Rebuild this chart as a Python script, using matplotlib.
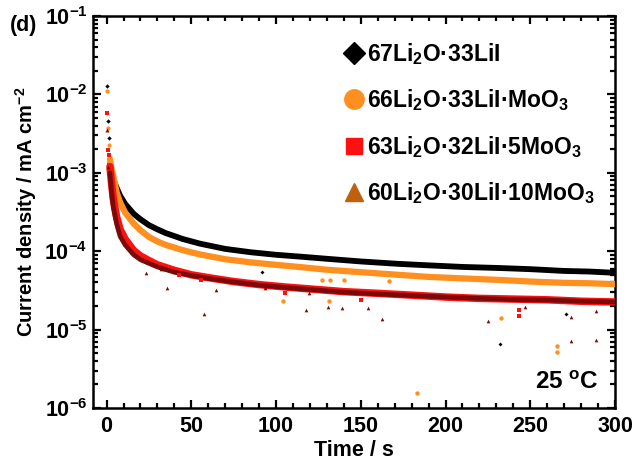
import matplotlib
matplotlib.use("Agg")
import matplotlib.pyplot as plt
from matplotlib.lines import Line2D
from matplotlib.ticker import MultipleLocator, LogLocator, FixedLocator, FixedFormatter, NullFormatter

plt.rcParams['font.family'] = ['Liberation Sans', 'DejaVu Sans']
plt.rcParams['font.weight'] = 'bold'
plt.rcParams['mathtext.fontset'] = 'custom'
plt.rcParams['mathtext.rm'] = 'Liberation Sans:bold'
plt.rcParams['mathtext.it'] = 'Liberation Sans:bold'
plt.rcParams['mathtext.bf'] = 'Liberation Sans:bold'

# ---------------- data ----------------
labels = ["67Li$_2$O·33LiI", "66Li$_2$O·33LiI·MoO$_3$",
          "63Li$_2$O·32LiI·5MoO$_3$", "60Li$_2$O·30LiI·10MoO$_3$"]

# first isolated points near t = 0
black_head_t = [0.5, 1.0, 1.5]
black_head_j = [1.29e-2, 4.6e-3, 2.75e-3]
orange_head_t = [0.5, 1.0, 1.5]
orange_head_j = [1.12e-2, 3.7e-3, 2.27e-3]
red_head_t = [0.5, 1.0, 1.5]
red_head_j = [5.75e-3, 1.96e-3, 1.7e-3]
dred_head_t = [0.5, 1.0]
dred_head_j = [3.5e-3, 1.2e-3]

# main decays
black_t = [2, 3, 4, 6, 8, 11, 16, 20, 25, 30, 35, 45, 55, 70, 85, 100, 115,
           130, 150, 172, 190, 210, 232, 250, 270, 285, 300]
black_j = [1.3e-3, 1.0e-3, 8.2e-4, 6.4e-4, 5.1e-4, 4.0e-4, 3.0e-4, 2.55e-4,
           2.15e-4, 1.9e-4, 1.7e-4, 1.43e-4, 1.25e-4, 1.07e-4, 9.7e-5,
           9.0e-5, 8.5e-5, 8.0e-5, 7.4e-5, 6.9e-5, 6.6e-5, 6.3e-5, 6.1e-5,
           5.9e-5, 5.6e-5, 5.5e-5, 5.3e-5]

orange_t = [2, 3, 4, 6, 8, 11, 16, 20, 25, 30, 35, 45, 55, 70, 85, 100, 115,
            130, 150, 172, 190, 210, 232, 250, 270, 285, 300]
orange_j = [1.5e-3, 1.1e-3, 9.0e-4, 5.6e-4, 4.2e-4, 3.1e-4, 2.25e-4, 1.85e-4,
            1.52e-4, 1.33e-4, 1.2e-4, 1.03e-4, 9.1e-5, 7.9e-5, 7.2e-5, 6.7e-5,
            6.25e-5, 5.8e-5, 5.4e-5, 5.0e-5, 4.7e-5, 4.5e-5, 4.3e-5, 4.1e-5,
            3.95e-5, 3.9e-5, 3.8e-5]

red_t = [2, 3, 4, 6, 8, 11, 16, 20, 25, 30, 40, 50, 60, 75, 90, 105, 120,
         140, 160, 180, 200, 220, 240, 260, 280, 300]
red_j = [1.2e-3, 7.2e-4, 4.6e-4, 2.7e-4, 1.9e-4, 1.42e-4, 1.02e-4, 8.7e-5,
         7.6e-5, 6.7e-5, 5.7e-5, 5.0e-5, 4.6e-5, 4.1e-5, 3.75e-5, 3.5e-5,
         3.3e-5, 3.05e-5, 2.9e-5, 2.75e-5, 2.6e-5, 2.5e-5, 2.45e-5, 2.4e-5,
         2.3e-5, 2.25e-5]

dred_t = [2, 3, 4, 6, 8, 11, 16, 20, 25, 30, 40, 50, 60, 75, 90, 105, 120,
          140, 160, 180, 200, 220, 240, 260, 280, 300]
dred_j = [1.0e-3, 5.5e-4, 3.6e-4, 2.2e-4, 1.55e-4, 1.2e-4, 9.0e-5, 7.8e-5,
          7.0e-5, 6.3e-5, 5.4e-5, 4.9e-5, 4.5e-5, 4.05e-5, 3.7e-5, 3.45e-5,
          3.25e-5, 3.0e-5, 2.85e-5, 2.72e-5, 2.6e-5, 2.5e-5, 2.42e-5, 2.38e-5,
          2.3e-5, 2.25e-5]

# scattered outliers
black_out_t = [92, 232, 271]
black_out_j = [5.4e-5, 6.6e-6, 1.6e-5]
orange_out_t = [104.3, 127, 131.4, 132, 140, 166.6, 183, 232.7, 266, 266]
orange_out_j = [2.34e-5, 4.3e-5, 2.34e-5, 4.3e-5, 4.3e-5, 4.2e-5, 1.55e-6,
                1.4e-5, 6.1e-6, 5.2e-6]
red_out_t = [43, 55.9, 105.5, 150, 243.5, 243.5]
red_out_j = [5.0e-5, 4.3e-5, 2.97e-5, 2.4e-5, 1.8e-5, 1.5e-5]
dred_out_t = [23.5, 32, 33.7, 35.7, 57.4, 64.3, 93.7, 117.4, 119.6, 130.4,
              139.2, 154.3, 162.7, 225, 247, 274, 274, 289, 289]
dred_out_j = [5.25e-5, 5.9e-5, 5.9e-5, 3.4e-5, 1.6e-5, 3.2e-5, 3.4e-5,
              1.76e-5, 2.9e-5, 1.97e-5, 1.88e-5, 1.88e-5, 1.38e-5, 1.27e-5,
              1.97e-5, 1.45e-5, 7.1e-6, 7.4e-6, 1.75e-5]

yticks = [1e-6, 1e-5, 1e-4, 1e-3, 1e-2, 1e-1]
ytick_labels = ['$10^{-6}$', '$10^{-5}$', '$10^{-4}$', '$10^{-3}$',
                '$10^{-2}$', '$10^{-1}$']
xticks = [0, 50, 100, 150, 200, 250, 300]

# ---------------- styling ----------------
c_black = '#000000'
c_orange = '#FF9020'
c_red = '#FF1010'
c_dred = '#7A0A0A'
c_tri_legend = '#C0600C'

fig = plt.figure(figsize=(6.34, 4.70), dpi=100)
ax = fig.add_axes([93/634, 1-408/470, (615-93)/634, (408-16)/470])

band = 4.2
ax.plot(black_t, black_j, color=c_black, lw=band, solid_capstyle='round', zorder=3)
ax.plot(orange_t, orange_j, color=c_orange, lw=band + 0.3, solid_capstyle='round', zorder=3)
ax.plot(red_t, red_j, color=c_red, lw=band + 1.2, solid_capstyle='round', zorder=3)
ax.plot(dred_t, dred_j, color=c_dred, lw=band - 0.8, solid_capstyle='round', zorder=4)

ax.scatter(black_head_t, black_head_j, s=5, marker='D', color=c_black, zorder=5, lw=0)
ax.scatter(orange_head_t, orange_head_j, s=9, marker='o', color=c_orange, zorder=5, lw=0)
ax.scatter(red_head_t, red_head_j, s=11, marker='s', color=c_red, zorder=5, lw=0)
ax.scatter(dred_head_t, dred_head_j, s=8, marker='^', color=c_dred, zorder=5, lw=0)

ax.scatter(black_out_t, black_out_j, s=4, marker='D', color=c_black, zorder=5, lw=0)
ax.scatter(orange_out_t, orange_out_j, s=10, marker='o', color=c_orange, zorder=5, lw=0)
ax.scatter(red_out_t, red_out_j, s=10, marker='s', color=c_red, zorder=5, lw=0)
ax.scatter(dred_out_t, dred_out_j, s=7, marker='^', color=c_dred, zorder=5, lw=0)

ax.set_yscale('log')
ax.set_xlim(-8, 300)
ax.set_ylim(1e-6, 1e-1)

ax.xaxis.set_major_locator(FixedLocator(xticks))
ax.xaxis.set_minor_locator(MultipleLocator(10))
ax.yaxis.set_major_locator(FixedLocator(yticks))
ax.yaxis.set_major_formatter(FixedFormatter(ytick_labels))
ax.yaxis.set_minor_locator(LogLocator(base=10, subs=[2, 3, 4, 5, 6, 7, 8, 9], numticks=20))
ax.yaxis.set_minor_formatter(NullFormatter())

ax.tick_params(which='both', direction='in', top=True, right=True, width=1.6)
ax.tick_params(which='major', length=6)
ax.tick_params(which='minor', length=3.5)
ax.tick_params(axis='both', labelsize=15.5, pad=6)
ax.tick_params(axis='y', pad=4)
for s in ax.spines.values():
    s.set_linewidth(1.8)

ax.set_xlabel('Time / s', fontsize=15.5, fontweight='bold', labelpad=2)
ax.set_ylabel('Current density / mA cm$^{-2}$', fontsize=14.5, fontweight='bold', labelpad=4)

handles = [
    Line2D([], [], ls='none', marker='D', color=c_black, markersize=11),
    Line2D([], [], ls='none', marker='o', color=c_orange, markersize=14),
    Line2D([], [], ls='none', marker='s', color=c_red, markersize=12),
    Line2D([], [], ls='none', marker='^', color=c_tri_legend, markersize=13),
]
leg = ax.legend(handles, labels, loc='upper left', bbox_to_anchor=(0.463, 0.96),
                frameon=False, fontsize=16.5, handlelength=0.9, handletextpad=0.12,
                labelspacing=0.9, borderaxespad=0)

fig.text(10/634, 1-25/470, '(d)', fontsize=15.5, fontweight='bold', va='center', ha='left')
ax.text(0.968, 0.035, '25 $^{\\mathrm{o}}$C', transform=ax.transAxes, fontsize=17.5,
        fontweight='bold', ha='right', va='bottom')

fig.savefig('out.png', dpi=100)
